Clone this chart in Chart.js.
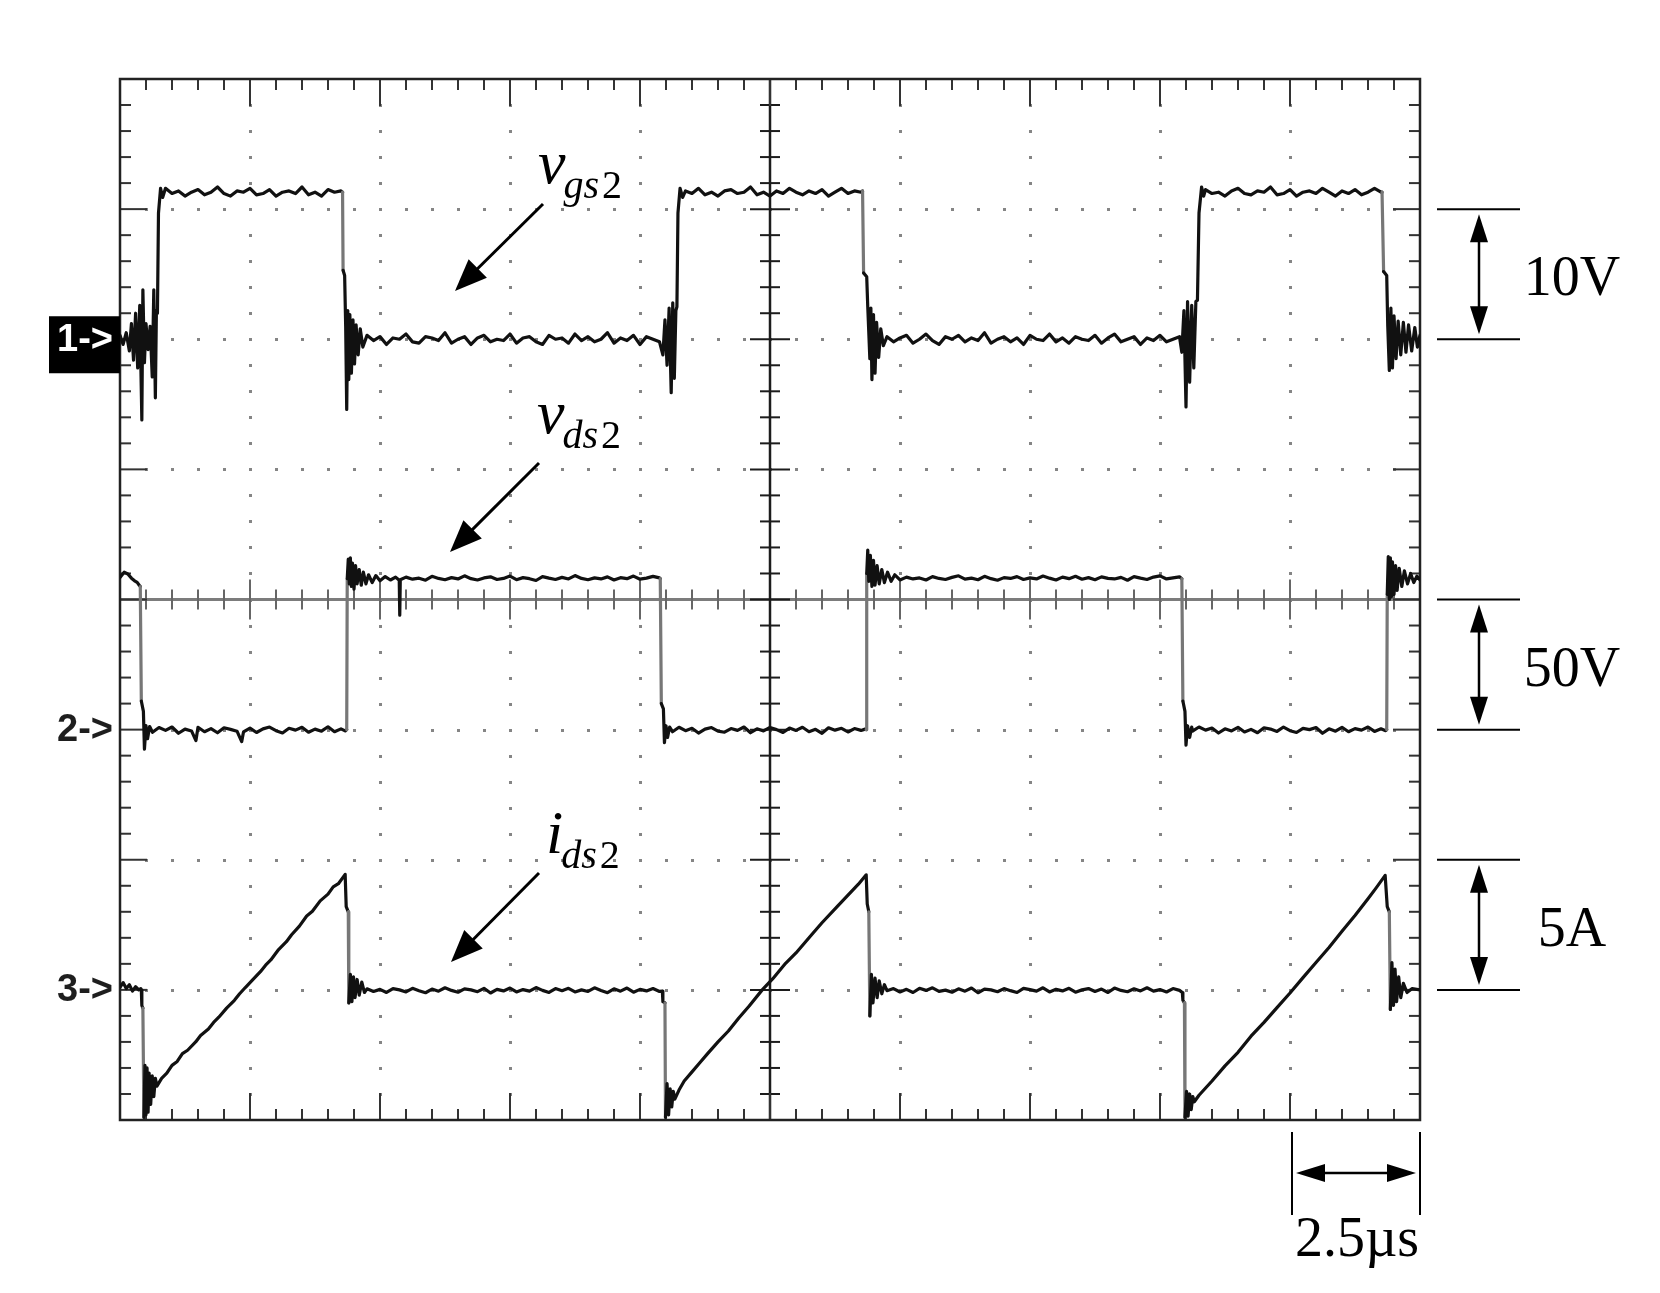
<!DOCTYPE html>
<html>
<head>
<meta charset="utf-8">
<title>vgs2 / vds2 / ids2</title>
<script src="https://cdn.jsdelivr.net/npm/chart.js@4.4.1/dist/chart.umd.min.js"></script>
<style>
  html, body { margin: 0; padding: 0; background: #fff; }
  canvas { display: block; }
</style>
</head>
<body>
<canvas id="scope" width="1660" height="1293"></canvas>
<script>
// Scope capture: 2.5 us/div, ch1 10 V/div, ch2 50 V/div, ch3 5 A/div.

const timeTicks = [0, 2.5, 5, 7.5, 10, 12.5, 15, 17.5, 20, 22.5, 25]; // us
const divTicks = [-4, -3, -2, -1, 0, 1, 2, 3, 4];
const channelNames = ['1->', '2->', '3->'];
const channelPerDiv = [10, 50, 5];
const channelGroundDiv = [2, -1, -3];
const scaleLabels = ['10V', '50V', '5A'];
const timeLabel = '2.5\u00b5s';

// [t (us), volts]
const vgs2Trace = [
  [0,0.3],[0.06,-0.4],[0.12,0.5],[0.18,-0.9],[0.22,1.2],[0.26,-1.6],[0.3,2.0],[0.34,-2.2],[0.38,2.6],[0.42,-6.2],
  [0.44,3.8],[0.47,-1.8],[0.5,1.2],[0.54,-0.8],[0.58,1.0],[0.62,-2.9],[0.65,3.8],[0.68,-4.5],[0.7,2.2],[0.72,2.0],
  [0.74,9.7],[0.78,11.6],[0.82,10.9],
  [0.875,11.6],[1.0,11.2],[1.125,11.4],[1.25,11.0],[1.375,11.3],[1.5,11.5],[1.625,11.1],[1.75,11.3],[1.875,11.7],
  [2.0,11.2],[2.125,11.0],[2.25,11.4],[2.375,11.3],[2.5,11.6],[2.625,11.1],[2.75,11.2],[2.875,11.5],[3.0,11.0],
  [3.125,11.3],[3.25,11.4],[3.375,11.2],[3.5,11.7],[3.625,11.1],[3.75,11.3],[3.875,11.0],[4.0,11.5],[4.125,11.3],[4.25,11.4],
  [4.28,11.3],[4.29,5.3],[4.32,4.9],[4.34,1.0],[4.36,-5.4],[4.38,2.2],[4.4,-3.1],[4.42,1.9],[4.45,-2.6],[4.48,1.5],
  [4.51,-1.9],[4.54,1.1],[4.58,-1.2],[4.62,0.8],[4.67,-0.6],
  [4.75,0.3],[4.875,-0.1],[5.0,0.2],[5.125,-0.4],[5.25,0.1],[5.375,0.0],[5.5,0.4],[5.625,-0.2],[5.75,-0.3],[5.875,0.2],
  [6.0,0.1],[6.125,-0.1],[6.25,0.5],[6.375,-0.3],[6.5,0.0],[6.625,0.2],[6.75,-0.4],[6.875,0.1],[7.0,0.3],[7.125,-0.2],
  [7.25,0.0],[7.375,-0.1],[7.5,0.4],[7.625,-0.3],[7.75,0.1],[7.875,0.2],[8.0,-0.2],[8.125,-0.4],[8.25,0.3],[8.375,0.0],
  [8.5,0.1],[8.625,-0.3],[8.75,0.4],[8.875,-0.1],[9.0,0.2],[9.125,-0.2],[9.25,0.0],[9.375,0.5],[9.5,-0.3],[9.625,0.1],
  [9.75,-0.1],[9.875,0.3],[10.0,-0.4],[10.125,0.2],[10.25,0.0],[10.375,-0.2],
  [10.44,-1.2],[10.48,1.5],[10.52,-2.0],[10.56,2.4],[10.6,-4.1],[10.63,2.8],[10.66,-3.0],[10.69,2.2],[10.71,2.5],
  [10.73,9.7],[10.77,11.6],[10.82,10.9],
  [10.875,11.4],[11.0,11.2],[11.125,11.6],[11.25,11.1],[11.375,11.3],[11.5,11.0],[11.625,11.4],[11.75,11.5],[11.875,11.2],
  [12.0,11.3],[12.125,11.7],[12.25,11.1],[12.375,11.3],[12.5,11.0],[12.625,11.4],[12.75,11.2],[12.875,11.6],[13.0,11.3],
  [13.125,11.1],[13.25,11.4],[13.375,11.2],[13.5,11.5],[13.625,11.0],[13.75,11.3],[13.875,11.6],[14.0,11.2],[14.125,11.4],[14.25,11.3],
  [14.28,11.4],[14.3,5.1],[14.36,4.8],[14.38,2.5],[14.42,-1.5],[14.44,2.4],[14.46,-3.1],[14.49,1.9],[14.52,-2.6],[14.55,1.3],
  [14.59,-1.4],[14.63,0.8],[14.68,-0.5],
  [14.75,0.2],[14.875,-0.2],[15.0,0.1],[15.125,0.3],[15.25,-0.3],[15.375,0.0],[15.5,0.4],[15.625,-0.1],[15.75,-0.4],[15.875,0.2],
  [16.0,0.0],[16.125,0.3],[16.25,-0.2],[16.375,0.1],[16.5,-0.1],[16.625,0.5],[16.75,-0.3],[16.875,0.0],[17.0,0.2],[17.125,-0.2],
  [17.25,0.1],[17.375,-0.4],[17.5,0.3],[17.625,0.0],[17.75,-0.1],[17.875,0.4],[18.0,-0.2],[18.125,0.1],[18.25,-0.3],[18.375,0.2],
  [18.5,0.0],[18.625,-0.1],[18.75,0.3],[18.875,-0.3],[19.0,0.1],[19.125,0.4],[19.25,-0.2],[19.375,0.0],[19.5,0.2],[19.625,-0.4],
  [19.75,0.1],[19.875,-0.1],[20.0,0.3],[20.125,-0.2],[20.25,0.0],[20.375,0.2],
  [20.42,-1.0],[20.46,2.2],[20.5,-5.2],[20.53,2.9],[20.57,-3.3],[20.61,2.6],[20.65,-2.2],[20.69,2.9],[20.72,3.0],
  [20.75,9.7],[20.8,11.7],[20.84,11.0],
  [20.875,11.5],[21.0,11.2],[21.125,11.3],[21.25,11.0],[21.375,11.4],[21.5,11.6],[21.625,11.2],[21.75,11.1],[21.875,11.4],
  [22.0,11.3],[22.125,11.7],[22.25,11.1],[22.375,11.2],[22.5,11.5],[22.625,11.0],[22.75,11.3],[22.875,11.4],[23.0,11.2],
  [23.125,11.6],[23.25,11.3],[23.375,11.0],[23.5,11.4],[23.625,11.2],[23.75,11.5],[23.875,11.1],[24.0,11.3],[24.125,11.6],[24.25,11.3],
  [24.27,11.3],[24.3,5.2],[24.36,4.9],[24.38,1.0],[24.41,-2.4],[24.44,2.4],[24.47,-2.2],[24.5,1.8],[24.54,-1.5],[24.58,1.4],
  [24.63,-1.2],[24.68,1.3],[24.73,-1.0],[24.78,1.1],[24.84,-0.9],[24.9,0.9],[24.95,-0.6],[25,0.3]
];

// [t (us), volts]
const vds2Trace = [
  [0,58.5],[0.08,60.5],[0.15,59.8],[0.22,58.2],[0.28,57.2],[0.33,56.6],[0.37,55.5],
  [0.39,55],[0.41,11],[0.45,7],[0.47,-7.5],[0.5,1.5],[0.53,-3.5],[0.57,1.2],
  [0.625,-1.0],[0.75,0.8],[0.875,-0.3],[1.0,1.0],[1.125,-1.4],[1.25,0.2],[1.375,-0.5],[1.46,-4.2],[1.5,0.9],[1.625,-0.8],
  [1.75,0.4],[1.875,-1.2],[2.0,0.7],[2.125,0.1],[2.25,-0.6],[2.34,-4.6],[2.375,-0.9],[2.5,0.6],[2.625,-1.1],[2.75,0.3],
  [2.875,1.0],[3.0,-0.4],[3.125,-1.3],[3.25,0.5],[3.375,-0.2],[3.5,0.9],[3.625,-1.0],[3.75,0.2],[3.875,-0.6],[4.0,1.1],
  [4.125,-0.8],[4.25,0.3],[4.33,-0.5],
  [4.36,0],[4.37,58],[4.39,65.5],[4.41,56],[4.43,66],[4.45,55],[4.47,64],[4.5,54],[4.53,63],[4.56,56],[4.6,61.5],
  [4.64,55.5],[4.68,60.5],[4.73,56],[4.78,59.5],[4.85,56.5],[4.92,59.2],[5.0,57.2],[5.1,58.8],[5.2,57.5],[5.3,58.6],
  [5.37,57.4],[5.38,44],[5.39,57.6],
  [5.5,58.6],[5.625,57.8],[5.75,58.2],[5.875,57.4],[6.0,58.9],[6.125,58.1],[6.25,57.6],[6.375,58.4],[6.5,57.9],[6.625,59.1],
  [6.75,58.0],[6.875,57.5],[7.0,58.3],[7.125,58.7],[7.25,57.7],[7.375,58.1],[7.5,59.0],[7.625,57.6],[7.75,58.4],[7.875,58.0],
  [8.0,57.3],[8.125,58.8],[8.25,58.2],[8.375,57.7],[8.5,58.5],[8.625,57.9],[8.75,59.2],[8.875,58.1],[9.0,57.6],[9.125,58.3],
  [9.25,57.9],[9.375,58.7],[9.5,57.5],[9.625,58.4],[9.75,58.0],[9.875,59.0],[10.0,57.8],[10.125,58.2],[10.25,58.9],[10.375,58.3],
  [10.39,58],[10.41,10],[10.45,8],[10.47,-5],[10.5,1.5],[10.53,-3],[10.57,1],
  [10.625,-0.8],[10.75,0.9],[10.875,-0.4],[11.0,0.5],[11.125,-1.3],[11.25,0.2],[11.375,0.8],[11.5,-0.6],[11.625,-1.0],
  [11.75,0.4],[11.875,-0.3],[12.0,1.0],[12.125,-1.2],[12.25,0.3],[12.375,-0.5],[12.5,0.8],[12.625,0.0],[12.75,-1.1],
  [12.875,0.6],[13.0,-0.3],[13.125,0.9],[13.25,-0.8],[13.375,0.1],[13.5,-1.4],[13.625,0.7],[13.75,-0.2],[13.875,0.5],
  [14.0,-0.9],[14.125,0.4],[14.25,-0.3],[14.33,0.2],
  [14.35,0],[14.36,60],[14.38,69],[14.4,57],[14.43,67],[14.46,55],[14.49,65],[14.52,55.5],[14.56,63],[14.6,56],
  [14.65,61.5],[14.7,56.5],[14.76,60.5],[14.83,57],[14.9,59.5],[15.0,57.5],
  [15.125,58.6],[15.25,57.9],[15.375,58.3],[15.5,57.5],[15.625,58.8],[15.75,58.1],[15.875,57.7],[16.0,58.5],[16.125,59.1],
  [16.25,57.8],[16.375,58.2],[16.5,57.6],[16.625,58.9],[16.75,58.0],[16.875,57.4],[17.0,58.4],[17.125,58.1],[17.25,58.8],
  [17.375,57.7],[17.5,58.3],[17.625,57.9],[17.75,59.0],[17.875,58.2],[18.0,57.5],[18.125,58.6],[18.25,58.0],[18.375,58.9],
  [18.5,57.8],[18.625,58.4],[18.75,57.6],[18.875,58.7],[19.0,58.1],[19.125,57.9],[19.25,58.5],[19.375,57.4],[19.5,58.8],
  [19.625,58.2],[19.75,57.7],[19.875,58.6],[20.0,59.1],[20.125,57.9],[20.25,58.3],[20.375,58.7],
  [20.42,58],[20.44,11],[20.48,7],[20.5,-6],[20.53,1.5],[20.57,-3],[20.61,1],
  [20.625,-0.6],[20.75,1.0],[20.875,-0.2],[21.0,0.6],[21.125,-1.3],[21.25,0.3],[21.375,-0.5],[21.5,0.9],[21.625,-0.9],
  [21.75,0.1],[21.875,-1.2],[22.0,0.7],[22.125,0.2],[22.25,-0.7],[22.375,1.0],[22.5,-0.4],[22.625,-1.1],[22.75,0.5],
  [22.875,0.0],[23.0,0.8],[23.125,-1.4],[23.25,0.3],[23.375,-0.6],[23.5,0.9],[23.625,-0.8],[23.75,0.4],[23.875,-0.2],
  [24.0,1.0],[24.125,-0.7],[24.25,0.3],[24.34,-0.4],
  [24.36,0],[24.37,52],[24.39,66.5],[24.41,50],[24.43,66],[24.45,51],[24.47,64.5],[24.5,52],[24.53,63],[24.56,53.5],
  [24.6,62],[24.65,55],[24.7,61],[24.76,56],[24.82,60],[24.88,56.5],[24.94,59],[25,57.5]
];

// [t (us), amps]
const ids2Trace = [
  [0,0.1],[0.06,0.28],[0.12,0.05],[0.18,0.2],[0.24,-0.05],[0.3,0.12],[0.36,0.0],[0.4,0.05],
  [0.41,0.0],[0.42,-0.6],[0.44,-0.7],[0.46,-4.9],[0.48,-2.9],[0.5,-4.8],[0.52,-3.0],[0.54,-4.7],[0.56,-3.2],[0.59,-4.4],
  [0.62,-3.3],[0.65,-4.1],[0.68,-3.4],[0.71,-3.7],
  [0.8,-3.4],[0.9,-3.2],[1.0,-2.9],[1.1,-2.75],[1.2,-2.45],[1.3,-2.32],[1.455,-2.0],[1.55,-1.75],[1.7,-1.5],[1.8,-1.25],
  [1.9,-1.05],[2.05,-0.7],[2.2,-0.4],[2.3,-0.15],[2.41,0.09],[2.55,0.38],[2.7,0.7],[2.8,0.95],[2.9,1.15],[3.05,1.55],
  [3.2,1.85],[3.3,2.12],[3.45,2.45],[3.59,2.84],[3.7,3.02],[3.85,3.42],[4.0,3.68],[4.1,3.96],[4.2,4.08],[4.33,4.44],
  [4.35,3.2],[4.39,3.0],[4.4,-0.5],[4.43,0.6],[4.46,-0.45],[4.49,0.5],[4.52,-0.3],[4.56,0.4],[4.6,-0.2],[4.65,0.3],[4.7,-0.1],
  [4.75,0.04],[4.875,-0.06],[5.0,0.02],[5.125,-0.1],[5.25,0.05],[5.375,0.0],[5.5,-0.08],[5.625,0.06],[5.75,-0.03],[5.875,-0.11],
  [6.0,0.03],[6.125,-0.05],[6.25,0.08],[6.375,-0.02],[6.5,-0.09],[6.625,0.04],[6.75,0.0],[6.875,-0.07],[7.0,0.06],[7.125,-0.12],
  [7.25,0.02],[7.375,-0.04],[7.5,0.07],[7.625,-0.08],[7.75,0.01],[7.875,-0.05],[8.0,0.09],[8.125,-0.02],[8.25,-0.1],[8.375,0.05],
  [8.5,-0.03],[8.625,0.06],[8.75,-0.08],[8.875,0.0],[9.0,-0.06],[9.125,0.08],[9.25,-0.02],[9.375,-0.11],[9.5,0.04],[9.625,-0.05],
  [9.75,0.07],[9.875,-0.09],[10.0,0.02],[10.125,-0.04],[10.25,0.05],[10.375,-0.06],
  [10.43,-0.05],[10.44,-0.45],[10.48,-0.5],[10.49,-4.9],[10.52,-3.6],[10.55,-4.8],[10.58,-3.8],[10.61,-4.5],[10.64,-3.9],[10.67,-4.2],
  [10.75,-3.85],[10.85,-3.5],[11.0,-3.15],[11.15,-2.8],[11.3,-2.45],[11.5,-2.0],[11.7,-1.58],[11.9,-1.08],[12.1,-0.62],
  [12.35,0.0],[12.55,0.42],[12.8,1.02],[13.0,1.42],[13.3,2.12],[13.5,2.58],[13.8,3.22],[14.0,3.64],[14.2,4.06],[14.35,4.42],
  [14.37,3.3],[14.4,3.0],[14.42,-1.0],[14.45,0.6],[14.48,-0.5],[14.52,0.45],[14.56,-0.3],[14.6,0.35],[14.65,-0.15],[14.7,0.2],
  [14.75,-0.03],[14.875,0.05],[15.0,-0.08],[15.125,0.02],[15.25,-0.1],[15.375,0.06],[15.5,-0.02],[15.625,0.08],[15.75,-0.06],
  [15.875,-0.01],[16.0,-0.09],[16.125,0.04],[16.25,-0.05],[16.375,0.07],[16.5,-0.11],[16.625,0.03],[16.75,0.0],[16.875,-0.07],
  [17.0,0.05],[17.125,-0.03],[17.25,-0.1],[17.375,0.06],[17.5,0.01],[17.625,-0.05],[17.75,0.08],[17.875,-0.08],[18.0,0.02],
  [18.125,-0.04],[18.25,0.06],[18.375,-0.09],[18.5,0.0],[18.625,0.05],[18.75,-0.06],[18.875,0.03],[19.0,-0.1],[19.125,0.07],
  [19.25,-0.02],[19.375,-0.07],[19.5,0.04],[19.625,-0.04],[19.75,0.08],[19.875,-0.05],[20.0,0.01],[20.125,-0.08],[20.25,0.05],[20.375,-0.02],
  [20.43,-0.1],[20.44,-0.4],[20.47,-0.5],[20.48,-4.9],[20.51,-3.9],[20.54,-4.85],[20.57,-4.0],[20.6,-4.6],[20.63,-4.1],[20.66,-4.3],
  [20.75,-4.05],[21.0,-3.5],[21.25,-2.92],[21.5,-2.4],[21.75,-1.78],[22.0,-1.25],[22.25,-0.68],[22.5,-0.12],[22.75,0.47],
  [23.0,1.05],[23.25,1.63],[23.5,2.25],[23.75,2.86],[24.0,3.5],[24.15,3.9],[24.33,4.4],
  [24.37,3.2],[24.41,3.0],[24.43,-0.75],[24.46,1.05],[24.49,-0.6],[24.52,0.8],[24.55,-0.45],[24.59,0.5],[24.63,-0.3],
  [24.68,0.25],[24.75,-0.1],[24.85,0.05],[25,0.0]
];

const traces = [vgs2Trace, vds2Trace, ids2Trace];

// channel axis range so that its ground sits at channelGroundDiv on the 8-div screen
function channelAxis(i) {
  return {
    type: 'linear', axis: 'y', display: false,
    min: (-4 - channelGroundDiv[i]) * channelPerDiv[i],
    max: (4 - channelGroundDiv[i]) * channelPerDiv[i],
  };
}

function line(ctx, x0, y0, x1, y1) {
  ctx.beginPath();
  ctx.moveTo(x0, y0);
  ctx.lineTo(x1, y1);
  ctx.stroke();
}

function arrowHead(ctx, x0, y0, x1, y1, len, half) {
  const a = Math.atan2(y1 - y0, x1 - x0);
  const c = Math.cos(a), s = Math.sin(a);
  ctx.beginPath();
  ctx.moveTo(x1, y1);
  ctx.lineTo(x1 - len * c + half * s, y1 - len * s - half * c);
  ctx.lineTo(x1 - len * c - half * s, y1 - len * s + half * c);
  ctx.closePath();
  ctx.fill();
}

function arrow(ctx, x0, y0, x1, y1, len, half) {
  const a = Math.atan2(y1 - y0, x1 - x0);
  line(ctx, x0, y0, x1 - len * 0.8 * Math.cos(a), y1 - len * 0.8 * Math.sin(a));
  arrowHead(ctx, x0, y0, x1, y1, len, half);
}

function doubleArrow(ctx, x0, y0, x1, y1, len, half) {
  const a = Math.atan2(y1 - y0, x1 - x0);
  const c = Math.cos(a) * len * 0.8, s = Math.sin(a) * len * 0.8;
  line(ctx, x0 + c, y0 + s, x1 - c, y1 - s);
  arrowHead(ctx, x0, y0, x1, y1, len, half);
  arrowHead(ctx, x1, y1, x0, y0, len, half);
}

const scopeGrid = {
  id: 'scopeGrid',
  beforeDatasetsDraw(chart) {
    const { ctx, chartArea: ca, scales } = chart;
    const X = t => scales.x.getPixelForValue(t);
    const Y = d => scales.yDiv.getPixelForValue(d);
    const xMid = X(timeTicks[5]), yMid = Y(0);
    const minorX = [], minorY = [];
    for (let k = 1; k < 50; k++) minorX.push({ p: X(k * 0.5), major: k % 5 === 0 });
    for (let k = 1; k < 40; k++) minorY.push({ p: Y(-4 + k * 0.2), major: k % 5 === 0 });

    ctx.save();
    // dotted division lines
    ctx.fillStyle = '#858585';
    timeTicks.slice(1, -1).forEach((t, i) => {
      if (i + 1 === 5) return;
      const x = Math.round(X(t));
      minorY.forEach(m => ctx.fillRect(x - 1, Math.round(m.p) - 1, 3, 3));
    });
    divTicks.slice(1, -1).forEach(d => {
      if (d === 0) return;
      const y = Math.round(Y(d));
      minorX.forEach(m => ctx.fillRect(Math.round(m.p) - 1, y - 1, 3, 3));
    });

    // centre cross with graduations
    ctx.lineWidth = 3;
    ctx.strokeStyle = '#7c7c7c';
    line(ctx, ca.left, yMid, ca.right, yMid);
    ctx.lineWidth = 2;
    ctx.strokeStyle = '#666';
    minorX.forEach(m => { const h = m.major ? 20 : 10; line(ctx, m.p, yMid - h, m.p, yMid + h); });
    ctx.lineWidth = 2.5;
    ctx.strokeStyle = '#1c1c1c';
    line(ctx, xMid, ca.top, xMid, ca.bottom);
    ctx.lineWidth = 2;
    minorY.forEach(m => { const h = m.major ? 20 : 10; line(ctx, xMid - h, m.p, xMid + h, m.p); });

    // frame ticks
    ctx.strokeStyle = '#333';
    minorX.forEach(m => {
      const h = m.major ? 27 : 11;
      line(ctx, m.p, ca.top, m.p, ca.top + h);
      line(ctx, m.p, ca.bottom, m.p, ca.bottom - h);
    });
    minorY.forEach(m => {
      const h = m.major ? 27 : 11;
      line(ctx, ca.left, m.p, ca.left + h, m.p);
      line(ctx, ca.right, m.p, ca.right - h, m.p);
    });
    ctx.lineWidth = 2.5;
    ctx.strokeStyle = '#222';
    ctx.strokeRect(ca.left, ca.top, ca.right - ca.left, ca.bottom - ca.top);
    ctx.restore();
  },
};

const scopeNotes = {
  id: 'scopeNotes',
  afterDraw(chart) {
    const { ctx, chartArea: ca, scales } = chart;
    ctx.save();

    // ground markers
    ctx.font = 'bold 38px "Liberation Sans"';
    ctx.textAlign = 'right';
    ctx.textBaseline = 'middle';
    channelNames.forEach((name, i) => {
      const gy = scales['y' + (i + 1)].getPixelForValue(0);
      if (i === 0) {
        ctx.fillStyle = '#000';
        ctx.fillRect(ca.left - 71, gy - 23, 71, 57);
        ctx.fillStyle = '#fff';
      } else {
        ctx.fillStyle = '#1e1e1e';
      }
      ctx.fillText(name, ca.left - 7, gy + 1);
    });

    // amplitude scale bars
    ctx.fillStyle = '#000';
    ctx.strokeStyle = '#000';
    ctx.font = '56px "Liberation Serif"';
    ctx.textAlign = 'center';
    ctx.textBaseline = 'alphabetic';
    scaleLabels.forEach((lab, i) => {
      const s = scales['y' + (i + 1)];
      const yTop = s.getPixelForValue(channelPerDiv[i]);
      const yBot = s.getPixelForValue(0);
      const xm = ca.right + 59;
      ctx.lineWidth = 2;
      line(ctx, ca.right + 17, yTop, ca.right + 100, yTop);
      line(ctx, ca.right + 17, yBot, ca.right + 100, yBot);
      ctx.lineWidth = 2.5;
      doubleArrow(ctx, xm, yTop + 5, xm, yBot - 5, 28, 9);
      ctx.fillText(lab, ca.right + 152, (yTop + yBot) / 2 + 21);
    });

    // time scale bar
    const xa = scales.x.getPixelForValue(timeTicks[9]);
    const xb = scales.x.getPixelForValue(timeTicks[10]);
    ctx.lineWidth = 2;
    line(ctx, xa + 2, ca.bottom + 12, xa + 2, ca.bottom + 95);
    line(ctx, xb, ca.bottom + 12, xb, ca.bottom + 95);
    ctx.lineWidth = 2.5;
    doubleArrow(ctx, xa + 6, ca.bottom + 53, xb - 4, ca.bottom + 53, 29, 9);
    ctx.fillText(timeLabel, (xa + xb) / 2 + 2, ca.bottom + 136);

    // trace names with pointers
    const notes = [
      { main: 'v', sub: 'gs', x: 538, y: 183, a: [543, 204, 455, 291] },
      { main: 'v', sub: 'ds', x: 537, y: 433, a: [539, 463, 450, 552] },
      { main: 'i', sub: 'ds', x: 546, y: 853, a: [539, 873, 451, 962] },
    ];
    ctx.textAlign = 'left';
    notes.forEach(n => {
      ctx.font = 'italic 62px "Liberation Serif"';
      ctx.fillText(n.main, n.x, n.y);
      let sx = n.x + ctx.measureText(n.main).width - 2;
      ctx.font = 'italic 40px "Liberation Serif"';
      ctx.fillText(n.sub, sx, n.y + 15);
      sx += ctx.measureText(n.sub).width + 3;
      ctx.font = '40px "Liberation Serif"';
      ctx.fillText('2', sx, n.y + 15);
      ctx.lineWidth = 3;
      arrow(ctx, n.a[0], n.a[1], n.a[2], n.a[3], 32, 13);
    });
    ctx.restore();
  },
};

function edgeGrey(trace, onlyFromHigh) {
  return c => {
    const dx = Math.abs(c.p1.x - c.p0.x);
    const dy = Math.abs(c.p1.y - c.p0.y);
    if (onlyFromHigh) {
      const v0 = trace[c.p0DataIndex][1], v1 = trace[c.p1DataIndex][1];
      return v0 > 8 && v1 < 8 ? '#777' : undefined;
    }
    return dx < 3 && dy > 80 ? '#777' : undefined;
  };
}

new Chart(document.getElementById('scope'), {
  type: 'line',
  data: {
    datasets: traces.map((tr, i) => ({
      label: ['vgs2', 'vds2', 'ids2'][i],
      data: tr.map(([t, v]) => ({ x: t, y: v })),
      yAxisID: 'y' + (i + 1),
      borderColor: '#111',
      borderWidth: 3.2,
      pointRadius: 0,
      tension: 0,
      fill: false,
      clip: 0,
      segment: { borderColor: edgeGrey(tr, i === 0) },
    })),
  },
  options: {
    responsive: false,
    animation: false,
    devicePixelRatio: 1,
    events: [],
    layout: { padding: { left: 120, top: 79, right: 240, bottom: 173 } },
    elements: { line: { borderJoinStyle: 'round', borderCapStyle: 'round' } },
    plugins: { legend: { display: false }, tooltip: { enabled: false } },
    scales: {
      x: { type: 'linear', min: timeTicks[0], max: timeTicks[timeTicks.length - 1], display: false },
      yDiv: { type: 'linear', axis: 'y', min: divTicks[0], max: divTicks[divTicks.length - 1], display: false },
      y1: channelAxis(0),
      y2: channelAxis(1),
      y3: channelAxis(2),
    },
  },
  plugins: [scopeGrid, scopeNotes],
});
</script>
</body>
</html>
